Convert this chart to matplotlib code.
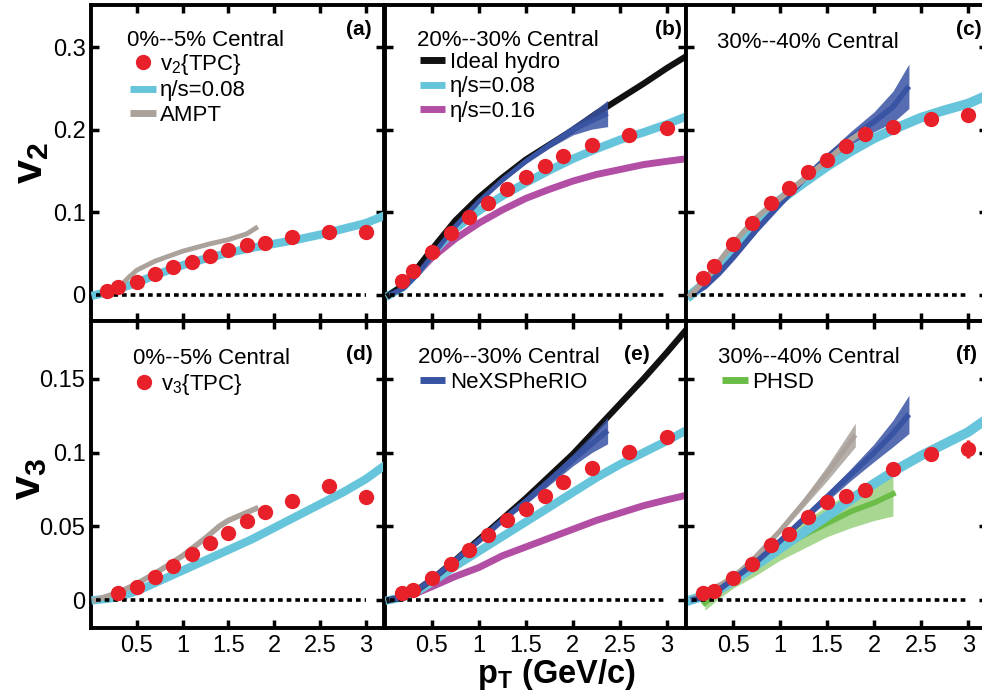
import numpy as np
import matplotlib
matplotlib.use('Agg')
import matplotlib.pyplot as plt
from matplotlib.lines import Line2D
from matplotlib.ticker import FuncFormatter, FixedLocator

plt.rcParams['font.family'] = ['Liberation Sans', 'DejaVu Sans']
plt.rcParams['mathtext.fontset'] = 'custom'
plt.rcParams['mathtext.rm'] = 'Liberation Sans'
plt.rcParams['mathtext.it'] = 'Liberation Sans:italic'
plt.rcParams['mathtext.bf'] = 'Liberation Sans:bold'

# ---------------- data ----------------
pt_pts = [0.18, 0.3, 0.5, 0.7, 0.9, 1.1, 1.3, 1.5, 1.7, 1.9, 2.2, 2.6, 3.0]
pt_pts_d = [0.3, 0.5, 0.7, 0.9, 1.1, 1.3, 1.5, 1.7, 1.9, 2.2, 2.6, 3.0]

v2_a = [0.0053, 0.0093, 0.016, 0.0255, 0.034, 0.040, 0.047, 0.054, 0.060, 0.063, 0.070, 0.076, 0.076]
v2_b = [0.017, 0.0295, 0.0525, 0.0747, 0.095, 0.112, 0.128, 0.143, 0.156, 0.169, 0.182, 0.194, 0.202]
v2_c = [0.0202, 0.0352, 0.0614, 0.0877, 0.111, 0.130, 0.149, 0.164, 0.180, 0.195, 0.204, 0.213, 0.218]
v3_d = [0.0045, 0.0091, 0.0159, 0.0234, 0.0311, 0.0386, 0.0452, 0.0539, 0.0595, 0.0675, 0.0773, 0.070]
v3_e = [0.0045, 0.0068, 0.0148, 0.0243, 0.0336, 0.0443, 0.0541, 0.062, 0.0705, 0.080, 0.0898, 0.1007, 0.1107]
v3_f = [0.0045, 0.0064, 0.0152, 0.0243, 0.0375, 0.0448, 0.0561, 0.0664, 0.0709, 0.0745, 0.089, 0.0993, 0.1023]
v3_d_err = [0, 0, 0, 0, 0, 0, 0, 0, 0, 0, 0.002, 0.004]
v3_f_err = [0, 0, 0, 0, 0, 0, 0, 0, 0, 0, 0.002, 0.004, 0.006]

# model curves
pt_model = [0.05, 0.2, 0.35, 0.5, 0.75, 1.0, 1.25, 1.5, 1.75, 2.0, 2.25, 2.5, 2.75, 3.0, 3.2]
visc08_a = [0, 0.004, 0.009, 0.015, 0.026, 0.036, 0.044, 0.051, 0.057, 0.062, 0.067, 0.073, 0.080, 0.087, 0.096]
visc08_b = [0, 0.010, 0.028, 0.050, 0.080, 0.102, 0.120, 0.136, 0.151, 0.165, 0.177, 0.188, 0.197, 0.207, 0.216]
visc16_b = [0, 0.010, 0.027, 0.045, 0.068, 0.087, 0.103, 0.117, 0.128, 0.138, 0.146, 0.152, 0.158, 0.162, 0.165]
ideal_b = [0, 0.012, 0.033, 0.055, 0.090, 0.118, 0.142, 0.164, 0.182, 0.200, 0.220, 0.238, 0.256, 0.275, 0.289]
visc08_c = [0, 0.014, 0.032, 0.052, 0.085, 0.115, 0.136, 0.156, 0.174, 0.190, 0.203, 0.215, 0.224, 0.232, 0.242]
visc08_d = [0, 0.001, 0.003, 0.006, 0.013, 0.020, 0.027, 0.034, 0.041, 0.049, 0.057, 0.065, 0.073, 0.082, 0.091]
ideal_e = [0, 0.002, 0.007, 0.014, 0.027, 0.041, 0.055, 0.069, 0.084, 0.099, 0.116, 0.133, 0.150, 0.168, 0.183]
visc08_e = [0, 0.002, 0.006, 0.012, 0.023, 0.033, 0.043, 0.053, 0.063, 0.073, 0.083, 0.092, 0.100, 0.108, 0.115]
visc16_e = [0, 0.002, 0.005, 0.009, 0.016, 0.022, 0.030, 0.036, 0.042, 0.048, 0.054, 0.059, 0.064, 0.068, 0.071]
visc08_f = [0, 0.003, 0.007, 0.013, 0.024, 0.035, 0.046, 0.057, 0.068, 0.079, 0.089, 0.098, 0.106, 0.114, 0.123]

pt_nexus = [0.05, 0.2, 0.35, 0.5, 0.75, 1.0, 1.25, 1.5, 1.75, 2.0, 2.2, 2.37]
nexus_b = [0, 0.008, 0.025, 0.047, 0.083, 0.113, 0.139, 0.162, 0.182, 0.200, 0.211, 0.220]
nexus_b_err = [0, 0, 0, 0, 0.001, 0.001, 0.002, 0.003, 0.004, 0.006, 0.010, 0.016]
nexus_c = [0, 0.010, 0.026, 0.045, 0.079, 0.110, 0.140, 0.167, 0.190, 0.210, 0.228, 0.253]
nexus_c_err = [0, 0, 0, 0, 0.001, 0.002, 0.003, 0.005, 0.008, 0.012, 0.019, 0.027]
nexus_e = [0, 0.002, 0.007, 0.014, 0.027, 0.040, 0.054, 0.067, 0.081, 0.095, 0.106, 0.115]
nexus_e_err = [0, 0, 0, 0, 0.001, 0.001, 0.001, 0.002, 0.003, 0.004, 0.006, 0.009]
nexus_f = [0, 0.002, 0.007, 0.014, 0.026, 0.040, 0.055, 0.070, 0.085, 0.100, 0.113, 0.126]
nexus_f_err = [0, 0, 0, 0, 0.001, 0.001, 0.002, 0.003, 0.004, 0.006, 0.009, 0.013]

pt_ampt_a = [0.2, 0.3, 0.4, 0.5, 0.7, 1.0, 1.3, 1.5, 1.7, 1.8]
ampt_a = [0.002, 0.008, 0.020, 0.030, 0.041, 0.053, 0.062, 0.067, 0.074, 0.081]
pt_ampt_c = [0.05, 0.2, 0.35, 0.5, 0.75, 1.0, 1.25, 1.5, 1.75, 1.9]
ampt_c = [0, 0.018, 0.040, 0.062, 0.094, 0.117, 0.140, 0.163, 0.188, 0.200]
pt_ampt_d = [0.05, 0.3, 0.5, 0.75, 1.0, 1.25, 1.4, 1.5, 1.65, 1.8]
ampt_d = [0, 0.005, 0.011, 0.020, 0.030, 0.042, 0.050, 0.054, 0.058, 0.062]
pt_ampt_f = [0.05, 0.5, 0.75, 1.0, 1.25, 1.5, 1.8]
ampt_f = [0, 0.015, 0.030, 0.047, 0.066, 0.086, 0.112]
ampt_f_err = [0, 0.001, 0.001, 0.002, 0.003, 0.005, 0.008]

pt_phsd = [0.2, 0.35, 0.5, 0.75, 1.0, 1.25, 1.5, 1.75, 2.0, 2.2]
phsd_f = [-0.002, 0.006, 0.014, 0.025, 0.035, 0.044, 0.052, 0.060, 0.066, 0.072]
phsd_lo = [-0.007, 0.001, 0.008, 0.017, 0.027, 0.035, 0.043, 0.049, 0.054, 0.057]
phsd_hi = [0.004, 0.012, 0.019, 0.030, 0.042, 0.053, 0.064, 0.073, 0.081, 0.087]

pt_ticks = [0.5, 1, 1.5, 2, 2.5, 3]
v2_ticks = [0, 0.1, 0.2, 0.3]
v3_ticks = [0, 0.05, 0.1, 0.15]

RED = '#e8202a'
CYAN = '#67c5db'
MAG = '#b24fa4'
BLUE = '#3a54a4'
GREY = '#aaa29b'
GREEN = '#6cbd48'
BLACK = '#111111'

# ---------------- figure ----------------
fig = plt.figure(figsize=(9.82, 7.0), dpi=100)
W, H = 982.0, 700.0

cols = [(91, 293), (384.7, 301), (686, 301)]
rows = [(5, 320.5), (320.5, 628)]

axes = {}
names = [['a', 'b', 'c'], ['d', 'e', 'f']]
for r, (ytop, ybot) in enumerate(rows):
    for c, (xl, w) in enumerate(cols):
        ax = fig.add_axes([xl / W, 1 - ybot / H, w / W, (ybot - ytop) / H])
        axes[names[r][c]] = ax

fmt = FuncFormatter(lambda v, p: '%g' % v)
for key, ax in axes.items():
    top = key in 'abc'
    ax.set_xlim(0, 3.2)
    if top:
        ax.set_ylim(-0.031, 0.3515)
        ax.yaxis.set_major_locator(FixedLocator(v2_ticks))
    else:
        ax.set_ylim(-0.019, 0.1897)
        ax.yaxis.set_major_locator(FixedLocator(v3_ticks))
    ax.xaxis.set_major_locator(FixedLocator(pt_ticks))
    ax.xaxis.set_major_formatter(fmt)
    ax.yaxis.set_major_formatter(fmt)
    ax.tick_params(which='both', direction='in', top=True, right=True,
                   length=6, width=2.5, labelsize=17, pad=4, color='black')
    ax.tick_params(axis='x', pad=5)
    ax.tick_params(labelbottom=(not top), labelleft=(key in 'ad'))
    for s in ax.spines.values():
        s.set_linewidth(2.8)
    ax.minorticks_off()
    # zero line
    ax.plot([0.06, 3.0], [0, 0], color='black', lw=2.6, ls=(0, (1.3, 1.1)),
            zorder=4, solid_capstyle='butt', dash_capstyle='butt')


def band(ax, x, y, e, color, lw, z, alpha=0.85):
    y = np.asarray(y); e = np.asarray(e)
    ax.fill_between(x, y - e, y + e, color=color, alpha=alpha, lw=0, zorder=z)
    ax.plot(x, y, color=color, lw=lw, zorder=z, solid_capstyle='butt')


def pts(ax, x, y, err=None):
    if err is None:
        ax.plot(x, y, 'o', color=RED, ms=10, mec=RED, zorder=10)
    else:
        ax.errorbar(x, y, yerr=err, fmt='o', color=RED, ms=10, mec=RED,
                    elinewidth=2.5, capsize=0, zorder=10)

# (a)
ax = axes['a']
ax.plot(pt_model, visc08_a, color=CYAN, lw=6, zorder=3)
ax.plot(pt_ampt_a, ampt_a, color=GREY, lw=3.5, zorder=3)
pts(ax, pt_pts, v2_a)

# (b)
ax = axes['b']
ax.plot(pt_model, visc16_b, color=MAG, lw=5, zorder=2)
ax.plot(pt_model, visc08_b, color=CYAN, lw=6, zorder=3)
ax.plot(pt_model, ideal_b, color=BLACK, lw=4.5, zorder=3)
band(ax, pt_nexus, nexus_b, nexus_b_err, BLUE, 3.5, 3.5)
pts(ax, pt_pts, v2_b)

# (c)
ax = axes['c']
ax.plot(pt_model, visc08_c, color=CYAN, lw=7, zorder=2)
band(ax, pt_nexus, nexus_c, nexus_c_err, BLUE, 4, 3)
ax.plot(pt_ampt_c, ampt_c, color=GREY, lw=4, zorder=3.2)
pts(ax, pt_pts, v2_c)

# (d)
ax = axes['d']
ax.plot(pt_model, visc08_d, color=CYAN, lw=6, zorder=3)
ax.plot(pt_ampt_d, ampt_d, color=GREY, lw=4, zorder=3)
pts(ax, pt_pts_d, v3_d, v3_d_err)

# (e)
ax = axes['e']
ax.plot(pt_model, visc16_e, color=MAG, lw=5, zorder=2)
ax.plot(pt_model, visc08_e, color=CYAN, lw=6, zorder=3)
ax.plot(pt_model, ideal_e, color=BLACK, lw=4.5, zorder=3)
band(ax, pt_nexus, nexus_e, nexus_e_err, BLUE, 4, 3.5)
pts(ax, pt_pts, v3_e)

# (f)
ax = axes['f']
ax.fill_between(pt_phsd, phsd_lo, phsd_hi, color=GREEN, alpha=0.6, lw=0, zorder=2)
ax.plot(pt_phsd, phsd_f, color=GREEN, lw=4, zorder=2.1)
ax.plot(pt_model, visc08_f, color=CYAN, lw=7, zorder=2.5)
band(ax, pt_ampt_f, ampt_f, ampt_f_err, GREY, 3.5, 3)
band(ax, pt_nexus, nexus_f, nexus_f_err, BLUE, 4, 3.2)
pts(ax, pt_pts, v3_f, v3_f_err)

# ---------------- legends / texts ----------------
FS = 16
def title(ax, x, y, s):
    ax.text(x, y, s, transform=ax.transAxes, fontsize=FS, ha='left', va='baseline', zorder=20)

def leg(ax, x, y, handles, labels):
    lg = ax.legend(handles, labels, loc='upper left', bbox_to_anchor=(x, y),
                   frameon=False, fontsize=FS, handlelength=1.15, handletextpad=0.2,
                   labelspacing=0.17, borderpad=0, borderaxespad=0, numpoints=1)
    lg.set_zorder(20)

def line_h(col, lw=5):
    return Line2D([], [], color=col, lw=lw, solid_capstyle='butt')

dot = Line2D([], [], marker='o', color=RED, ls='none', ms=10)

title(axes['a'], 0.123, 0.870, '0%--5% Central')
leg(axes['a'], 0.133, 0.852, [dot, line_h(CYAN), line_h(GREY)],
    ['v$_2${TPC}', 'η/s=0.08', 'AMPT'])

title(axes['b'], 0.107, 0.870, '20%--30% Central')
leg(axes['b'], 0.117, 0.852, [line_h(BLACK), line_h(CYAN), line_h(MAG)],
    ['Ideal hydro', 'η/s=0.08', 'η/s=0.16'])

title(axes['c'], 0.103, 0.865, '30%--40% Central')

title(axes['d'], 0.143, 0.859, '0%--5% Central')
leg(axes['d'], 0.137, 0.832, [dot], ['v$_3${TPC}'])

title(axes['e'], 0.11, 0.862, '20%--30% Central')
leg(axes['e'], 0.117, 0.832, [line_h(BLUE)], ['NeXSPheRIO'])

title(axes['f'], 0.106, 0.862, '30%--40% Central')
leg(axes['f'], 0.12, 0.832, [line_h(GREEN)], ['PHSD'])

lab_pos = {'a': (0.959, 0.905), 'b': (0.988, 0.905), 'c': (0.983, 0.905),
           'd': (0.963, 0.872), 'e': (0.881, 0.872), 'f': (0.967, 0.872)}
for k, (x, y) in lab_pos.items():
    axes[k].text(x, y, '(%s)' % k, transform=axes[k].transAxes, fontsize=15,
                 fontweight='bold', ha='right', va='baseline', zorder=20)

fig.text(31 / W, 1 - 163 / H, r'$\mathbf{v_2}$', fontsize=31, rotation=90,
         ha='center', va='center')
fig.text(29 / W, 1 - 479 / H, r'$\mathbf{v_3}$', fontsize=31, rotation=90,
         ha='center', va='center')
fig.text(556 / W, 1 - 683 / H, r'$\mathbf{p_T}$ (GeV/c)', fontsize=23.5,
         fontweight='bold', ha='center', va='baseline')

fig.savefig('out.png', dpi=100)
